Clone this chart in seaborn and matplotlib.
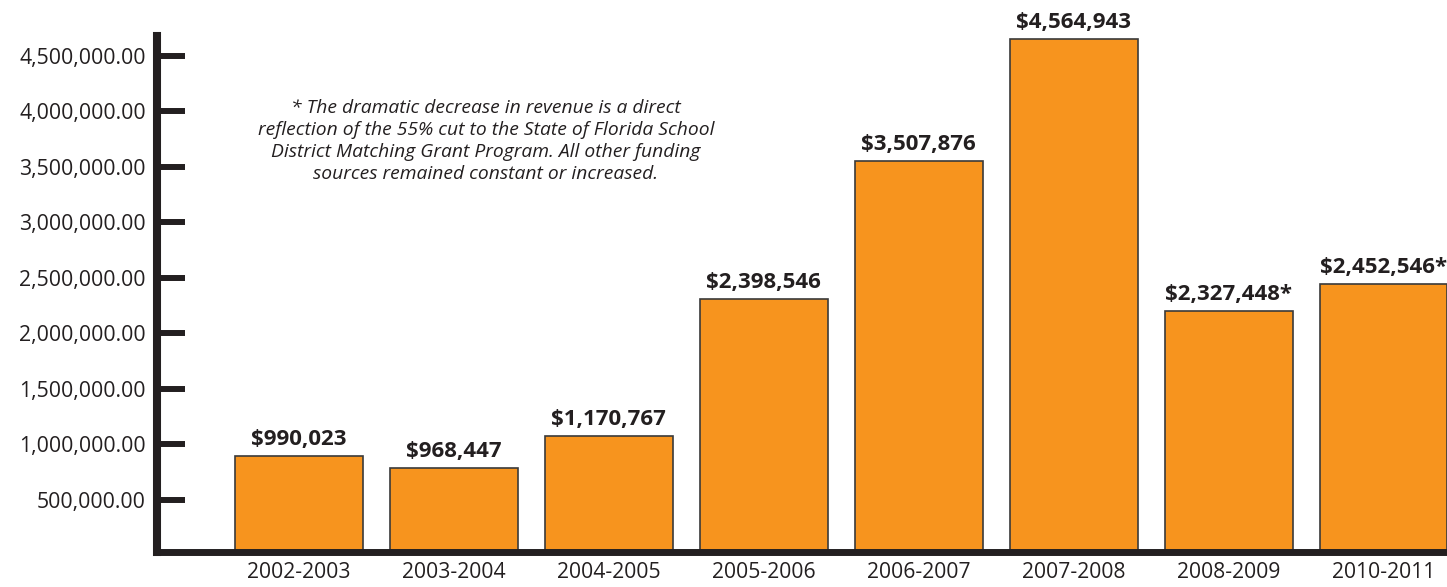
import matplotlib
matplotlib.use("Agg")
import matplotlib.pyplot as plt
import seaborn as sns
import pandas as pd
from matplotlib.ticker import FuncFormatter

categories = ['2002-2003', '2003-2004', '2004-2005', '2005-2006',
              '2006-2007', '2007-2008', '2008-2009', '2010-2011']
bar_values = [896000, 786000, 1077000, 2310000, 3548000, 4647000, 2202000, 2445000]
value_labels = ['$990,023', '$968,447', '$1,170,767', '$2,398,546',
                '$3,507,876', '$4,564,943', '$2,327,448*', '$2,452,546*']
y_ticks = [500000, 1000000, 1500000, 2000000, 2500000, 3000000, 3500000, 4000000, 4500000]
note = ("* The dramatic decrease in revenue is a direct\n"
        "reflection of the 55% cut to the State of Florida School\n"
        "District Matching Grant Program. All other funding\n"
        "sources remained constant or increased.")

sns.set_style("white")
plt.rcParams['font.family'] = ['Open Sans', 'DejaVu Sans']
dark = '#231f20'
orange = '#F7941E'

df = pd.DataFrame({'year': categories, 'value': bar_values})

fig = plt.figure(figsize=(14.47, 5.87), dpi=100)
ax = fig.add_axes([0.1085, 0.0588, 0.8915, 0.88])

sns.barplot(data=df, x='year', y='value', color=orange, saturation=1,
            width=0.826, edgecolor='#3a3a3a', linewidth=1.2, ax=ax)

ax.set_xlim(-0.917, 7.41)
ax.set_ylim(28000, 4677000)

for s in ['top', 'right']:
    ax.spines[s].set_visible(False)
ax.spines['left'].set_linewidth(5.8)
ax.spines['left'].set_color(dark)
ax.spines['bottom'].set_linewidth(5.0)
ax.spines['bottom'].set_color(dark)
ax.spines['left'].set_capstyle('projecting')
ax.spines['bottom'].set_capstyle('projecting')

ax.set_yticks(y_ticks)
ax.yaxis.set_major_formatter(FuncFormatter(lambda v, p: f"{v:,.2f}"))
ax.tick_params(axis='y', direction='in', length=20, width=4.3, color=dark,
               labelsize=15.3, labelcolor=dark, pad=8, left=True)
ax.tick_params(axis='x', length=0, labelsize=15.2, labelcolor=dark, pad=7)
ax.set_xlabel('')
ax.set_ylabel('')

for i, (v, lab) in enumerate(zip(bar_values, value_labels)):
    if i == len(bar_values) - 1:
        ax.annotate(lab, (i + 0.826 / 2, v), xytext=(0, 8), textcoords='offset points',
                    ha='right', va='baseline', fontsize=16, fontweight='bold', color=dark,
                    annotation_clip=False)
    else:
        ax.annotate(lab, (i, v), xytext=(0, 8), textcoords='offset points',
                    ha='center', va='baseline', fontsize=16, fontweight='bold', color=dark)

fig.text(486 / 1447, 1 - 141 / 587, note, ha='center', va='center', fontsize=13.9,
         style='italic', color=dark, linespacing=1.27)

fig.savefig('out.png', dpi=100)
